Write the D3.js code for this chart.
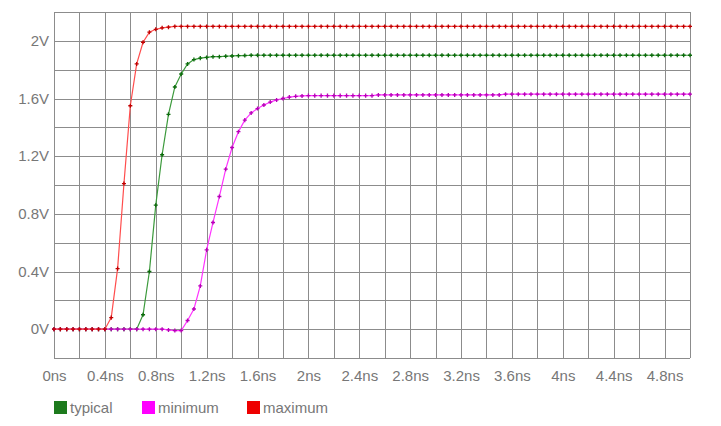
<!DOCTYPE HTML>
<HTML>
  <HEAD>
    <TITLE>Waveform</TITLE>
    <script src="https://d3js.org/d3.v7.min.js" charset="utf-8"></script>
    <style>
      body { margin: 0; background: white; }
      text { font-family: "Liberation Sans", Arial, sans-serif; }
    </style>
  </HEAD>
  <BODY>

  <script type="text/javascript">

    // sample times (ns)
    var times = [
      0.00, 0.05, 0.10, 0.15, 0.20, 0.25, 0.30, 0.35, 0.40, 0.45,
      0.50, 0.55, 0.60, 0.65, 0.70, 0.75, 0.80, 0.85, 0.90, 0.95,
      1.00, 1.05, 1.10, 1.15, 1.20, 1.25, 1.30, 1.35, 1.40, 1.45,
      1.50, 1.55, 1.60, 1.65, 1.70, 1.75, 1.80, 1.85, 1.90, 1.95,
      2.00, 2.05, 2.10, 2.15, 2.20, 2.25, 2.30, 2.35, 2.40, 2.45,
      2.50, 2.55, 2.60, 2.65, 2.70, 2.75, 2.80, 2.85, 2.90, 2.95,
      3.00, 3.05, 3.10, 3.15, 3.20, 3.25, 3.30, 3.35, 3.40, 3.45,
      3.50, 3.55, 3.60, 3.65, 3.70, 3.75, 3.80, 3.85, 3.90, 3.95,
      4.00, 4.05, 4.10, 4.15, 4.20, 4.25, 4.30, 4.35, 4.40, 4.45,
      4.50, 4.55, 4.60, 4.65, 4.70, 4.75, 4.80, 4.85, 4.90, 4.95,
      5.00
    ];

    var typical = [
      0, 0, 0, 0, 0, 0, 0, 0, 0, 0,
      0, 0, 0, 0, 0.10, 0.40, 0.86, 1.21, 1.49, 1.68,
      1.77, 1.84, 1.87, 1.88, 1.885, 1.89, 1.89, 1.893, 1.895, 1.897,
      1.898, 1.9, 1.9, 1.9, 1.9, 1.9, 1.9, 1.9, 1.9, 1.9,
      1.9, 1.9, 1.9, 1.9, 1.9, 1.9, 1.9, 1.9, 1.9, 1.9,
      1.9, 1.9, 1.9, 1.9, 1.9, 1.9, 1.9, 1.9, 1.9, 1.9,
      1.9, 1.9, 1.9, 1.9, 1.9, 1.9, 1.9, 1.9, 1.9, 1.9,
      1.9, 1.9, 1.9, 1.9, 1.9, 1.9, 1.9, 1.9, 1.9, 1.9,
      1.9, 1.9, 1.9, 1.9, 1.9, 1.9, 1.9, 1.9, 1.9, 1.9,
      1.9, 1.9, 1.9, 1.9, 1.9, 1.9, 1.9, 1.9, 1.9, 1.9,
      1.9
    ];

    var minimum = [
      0, 0, 0, 0, 0, 0, 0, 0, 0, 0,
      0, 0, 0, 0, 0, 0, 0, 0, -0.005, -0.01,
      -0.01, 0.06, 0.14, 0.30, 0.55, 0.74, 0.92, 1.11, 1.26, 1.37,
      1.45, 1.50, 1.53, 1.555, 1.575, 1.59, 1.60, 1.61, 1.615, 1.618,
      1.62, 1.62, 1.62, 1.62, 1.62, 1.62, 1.62, 1.62, 1.62, 1.62,
      1.62, 1.625, 1.625, 1.625, 1.625, 1.625, 1.625, 1.625, 1.625, 1.625,
      1.625, 1.625, 1.625, 1.625, 1.625, 1.625, 1.625, 1.625, 1.625, 1.625,
      1.625, 1.63, 1.63, 1.63, 1.63, 1.63, 1.63, 1.63, 1.63, 1.63,
      1.63, 1.63, 1.63, 1.63, 1.63, 1.63, 1.63, 1.63, 1.63, 1.63,
      1.63, 1.63, 1.63, 1.63, 1.63, 1.63, 1.63, 1.63, 1.63, 1.63,
      1.63
    ];

    var maximum = [
      0, 0, 0, 0, 0, 0, 0, 0, 0, 0.08,
      0.42, 1.01, 1.55, 1.84, 1.99, 2.06, 2.08, 2.09, 2.095, 2.1,
      2.1, 2.1, 2.1, 2.1, 2.1, 2.1, 2.1, 2.1, 2.1, 2.1,
      2.1, 2.1, 2.1, 2.1, 2.1, 2.1, 2.1, 2.1, 2.1, 2.1,
      2.1, 2.1, 2.1, 2.1, 2.1, 2.1, 2.1, 2.1, 2.1, 2.1,
      2.1, 2.1, 2.1, 2.1, 2.1, 2.1, 2.1, 2.1, 2.1, 2.1,
      2.1, 2.1, 2.1, 2.1, 2.1, 2.1, 2.1, 2.1, 2.1, 2.1,
      2.1, 2.1, 2.1, 2.1, 2.1, 2.1, 2.1, 2.1, 2.1, 2.1,
      2.1, 2.1, 2.1, 2.1, 2.1, 2.1, 2.1, 2.1, 2.1, 2.1,
      2.1, 2.1, 2.1, 2.1, 2.1, 2.1, 2.1, 2.1, 2.1, 2.1,
      2.1
    ];

    var seriesNames = ["typical", "minimum", "maximum"];
    var xTicks = [0, 0.4, 0.8, 1.2, 1.6, 2, 2.4, 2.8, 3.2, 3.6, 4, 4.4, 4.8];
    var yTicks = [0, 0.4, 0.8, 1.2, 1.6, 2];

    var w = 721;
    var h = 426;

    // plot box (note: "top" is reserved on window, so prefix everything)
    var plotL = 54, plotR = 690, plotT = 12, plotB = 358;

    var x = d3.scaleLinear().domain([0, 5]).range([plotL, plotR]);
    var y = d3.scaleLinear().domain([-0.2, 2.2]).range([plotB, plotT]);

    var svg = d3.select("body").append("svg")
      .attr("width", w)
      .attr("height", h);

    // grid, every 0.2 on both axes
    var gx = d3.range(0, 26).map(function(i) { return i * 0.2; });
    var gy = d3.range(0, 13).map(function(i) { return -0.2 + i * 0.2; });

    svg.append("g").selectAll("line")
      .data(gx)
      .enter()
      .append("line")
      .attr("x1", function(d) { return Math.round(x(d)) + 0.5; })
      .attr("x2", function(d) { return Math.round(x(d)) + 0.5; })
      .attr("y1", plotT)
      .attr("y2", plotB)
      .attr("stroke", "#8c8c8c")
      .attr("stroke-width", 1);

    svg.append("g").selectAll("line")
      .data(gy)
      .enter()
      .append("line")
      .attr("x1", plotL)
      .attr("x2", plotR)
      .attr("y1", function(d) { return Math.round(y(d)) + 0.5; })
      .attr("y2", function(d) { return Math.round(y(d)) + 0.5; })
      .attr("stroke", "#8c8c8c")
      .attr("stroke-width", 1);

    // axis labels
    var xAxis = d3.axisBottom(x)
      .tickValues(xTicks)
      .tickSize(0)
      .tickPadding(0)
      .tickFormat(function(d) { return d3.format("~g")(d) + "ns"; });

    var yAxis = d3.axisLeft(y)
      .tickValues(yTicks)
      .tickSize(0)
      .tickPadding(0)
      .tickFormat(function(d) { return d3.format("~g")(d) + "V"; });

    var xg = svg.append("g")
      .attr("transform", "translate(0," + (plotB + 12) + ")")
      .call(xAxis);
    var yg = svg.append("g")
      .attr("transform", "translate(" + (plotL - 5) + ",0)")
      .call(yAxis);

    [xg, yg].forEach(function(g) {
      g.select(".domain").remove();
      g.selectAll("text")
        .attr("fill", "#777")
        .attr("font-size", 15)
        .attr("font-family", "Liberation Sans, Arial, sans-serif");
    });

    var series = [
      {name: "typical", values: typical, line: "#3c9a3c", mark: "#0b6b0b", key: "#1d7a1d"},
      {name: "minimum", values: minimum, line: "#ff33ff", mark: "#b800b8", key: "#ff00ff"},
      {name: "maximum", values: maximum, line: "#ff4d4d", mark: "#c00000", key: "#ee0000"}
    ];

    var line = d3.line()
      .x(function(d) { return x(d[0]); })
      .y(function(d) { return y(d[1]); });

    var groups = svg.selectAll("g.series")
      .data(series)
      .enter()
      .append("g")
      .attr("class", "series");

    groups.append("path")
      .attr("d", function(d) {
        return line(d.values.map(function(v, i) { return [times[i], v]; }));
      })
      .attr("fill", "none")
      .attr("stroke", function(d) { return d.line; })
      .attr("stroke-width", 1.2);

    var cross = d3.symbol().type(d3.symbolCross).size(9);

    groups.selectAll("path.pt")
      .data(function(d) {
        return d.values.map(function(v, i) { return {t: times[i], v: v, c: d.mark}; });
      })
      .enter()
      .append("path")
      .attr("class", "pt")
      .attr("d", cross)
      .attr("transform", function(d) { return "translate(" + x(d.t) + "," + y(d.v) + ")"; })
      .attr("fill", function(d) { return d.c; });

    // legend
    var legendX = [54, 142, 247];

    var legend = svg.selectAll("g.legend")
      .data(series)
      .enter()
      .append("g")
      .attr("class", "legend")
      .attr("transform", function(d, i) { return "translate(" + legendX[i] + ", 401)"; });

    legend.append("rect")
      .attr("width", 13)
      .attr("height", 13)
      .attr("fill", function(d) { return d.key; });

    legend.append("text")
      .text(function(d) { return d.name; })
      .attr("x", 16)
      .attr("y", 12)
      .attr("font-size", 15)
      .attr("fill", "#777");

  </script>
  </BODY>
</HTML>
